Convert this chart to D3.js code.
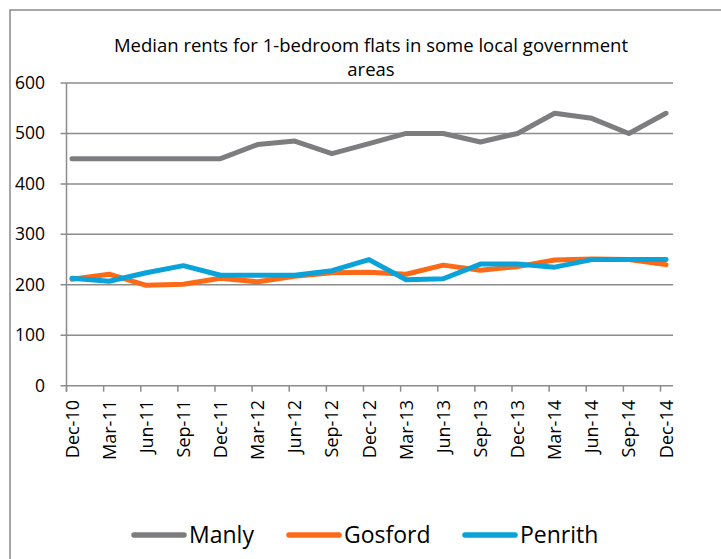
<!DOCTYPE html>
<html>
<head>
<meta charset="utf-8">
<script src="https://cdn.jsdelivr.net/npm/d3@7"></script>
<style>
  body { margin: 0; background: #fff; }
  svg text { font-family: "Open Sans", "Noto Sans", sans-serif; fill: #000; }
</style>
</head>
<body>
<svg id="chart" width="721" height="559"></svg>
<script>
var quarters = ["Dec-10", "Mar-11", "Jun-11", "Sep-11", "Dec-11", "Mar-12", "Jun-12", "Sep-12",
    "Dec-12", "Mar-13", "Jun-13", "Sep-13", "Dec-13", "Mar-14", "Jun-14", "Sep-14", "Dec-14"];
var manly   = [450, 450, 450, 450, 450, 478, 485, 460, 480, 500, 500, 483, 500, 540, 530, 500, 540];
var gosford = [211, 221, 199, 201, 213, 206, 217, 224, 225, 221, 239, 229, 236, 249, 251, 250, 240];
var penrith = [213, 207, 224, 238, 219, 219, 219, 228, 250, 210, 212, 241, 241, 235, 250, 250, 250];
var yTicks  = [0, 100, 200, 300, 400, 500, 600];

var series = [
    {name: "Manly", values: manly, color: "#7d7d80"},
    {name: "Gosford", values: gosford, color: "#fd6a17"},
    {name: "Penrith", values: penrith, color: "#0aa3d9"}
];

var svg = d3.select('#chart');

// outer chart frame, runs off the right and bottom edge
svg.append('rect')
    .attr('x', 10).attr('y', 10)
    .attr('width', 740).attr('height', 580)
    .attr('fill', 'none')
    .attr('stroke', '#8a8a8a')
    .attr('stroke-width', 1.5)
;

var x = d3.scalePoint().domain(quarters).range([72, 666]);
var y = d3.scaleLinear().domain([0, 600]).range([385.7, 83]);
var plotLeft = 66.5, plotRight = 673;

// title
var title = svg.append('text')
    .attr('text-anchor', 'middle')
    .style('font-size', '18.5px');
title.append('tspan').attr('x', 371).attr('y', 52).text("Median rents for 1-bedroom flats in some local government");
title.append('tspan').attr('x', 371).attr('y', 76).text("areas");

// gridlines and y ticks
svg.append('g').selectAll('line')
    .data(yTicks)
    .enter().append('line')
    .attr('x1', plotLeft - 6).attr('x2', plotRight)
    .attr('y1', function(d) { return y(d); })
    .attr('y2', function(d) { return y(d); })
    .attr('stroke', '#8c8c8c')
    .attr('stroke-width', 1.5)
;

svg.append('g').selectAll('text')
    .data(yTicks)
    .enter().append('text')
    .attr('x', 45)
    .attr('y', function(d) { return y(d) + 6; })
    .attr('text-anchor', 'end')
    .style('font-size', '17.5px')
    .text(function(d) { return d; })
;

// y axis line
svg.append('line')
    .attr('x1', plotLeft).attr('x2', plotLeft)
    .attr('y1', y(600)).attr('y2', y(0) + 6)
    .attr('stroke', '#8c8c8c')
    .attr('stroke-width', 1.5)
;

// x ticks
svg.append('g').selectAll('line')
    .data(quarters)
    .enter().append('line')
    .attr('x1', function(d) { return x(d) - 5.5; })
    .attr('x2', function(d) { return x(d) - 5.5; })
    .attr('y1', y(0)).attr('y2', y(0) + 6)
    .attr('stroke', '#8c8c8c')
    .attr('stroke-width', 1.5)
;

svg.append('g').selectAll('text')
    .data(quarters)
    .enter().append('text')
    .attr('transform', function(d) { return 'translate(' + (x(d) + 6.5) + ',' + 400 + ') rotate(-90)'; })
    .attr('text-anchor', 'end')
    .style('font-size', '18px')
    .text(function(d) { return d; })
;

// lines
var line = d3.line()
    .x(function(d, i) { return x(quarters[i]); })
    .y(function(d) { return y(d); });

svg.append('g').selectAll('path')
    .data(series)
    .enter().append('path')
    .attr('d', function(s) { return line(s.values); })
    .attr('fill', 'none')
    .attr('stroke', function(s) { return s.color; })
    .attr('stroke-width', 5)
    .attr('stroke-linejoin', 'round')
    .attr('stroke-linecap', 'round')
;

// legend
var legendX = [134, 289, 465];
var legend = svg.append('g').selectAll('g')
    .data(series)
    .enter().append('g')
    .attr('transform', function(s, i) { return 'translate(' + legendX[i] + ',535)'; });

legend.append('line')
    .attr('x1', 0).attr('x2', 50)
    .attr('stroke', function(s) { return s.color; })
    .attr('stroke-width', 5.5)
    .attr('stroke-linecap', 'round')
;
legend.append('text')
    .attr('x', 55).attr('y', 8)
    .style('font-size', '23px')
    .text(function(s) { return s.name; })
;
</script>
</body>
</html>
